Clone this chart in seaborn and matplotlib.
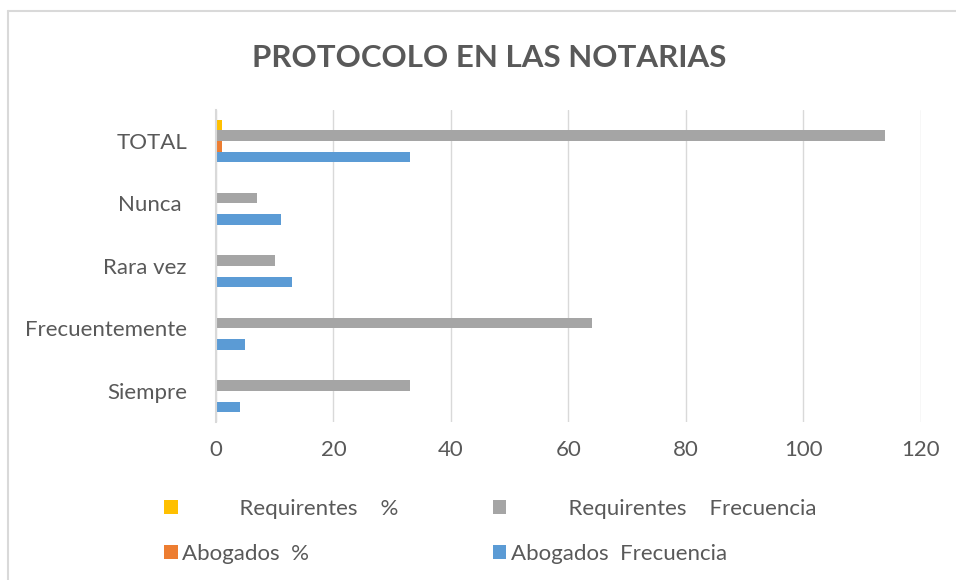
import pandas as pd
import matplotlib.pyplot as plt
import seaborn as sns
from matplotlib.lines import Line2D

# Data
categorias = ["TOTAL", "Nunca ", "Rara vez", "Frecuentemente", "Siempre"]
abogados_frec = [33, 11, 13, 5, 4]
abogados_pct = [1, 0, 0, 0, 0]
requirentes_frec = [114, 7, 10, 64, 33]
requirentes_pct = [1, 0, 0, 0, 0]

series = ["Requirentes %", "Requirentes Frecuencia", "Abogados %", "Abogados Frecuencia"]
leyenda = ["          Requirentes    %", "          Requirentes    Frecuencia",
           "Abogados  %", "Abogados  Frecuencia"]
colores = ["#FFC000", "#A5A5A5", "#ED7D31", "#5B9BD5"]

rows = []
for nombre, vals in zip(series, [requirentes_pct, requirentes_frec, abogados_pct, abogados_frec]):
    for c, v in zip(categorias, vals):
        rows.append({"categoria": c, "serie": nombre, "valor": v})
df = pd.DataFrame(rows)

sns.set_style("white")
plt.rcParams['font.family'] = ['Lato', 'DejaVu Sans']

fig = plt.figure(figsize=(9.56, 5.8), dpi=100)
ax = fig.add_axes([0.226, 0.272, 0.737, 0.539])

sns.barplot(data=df, y="categoria", x="valor", hue="serie", order=categorias,
            hue_order=series, palette=colores, orient="h", width=0.68,
            linewidth=0, saturation=1, ax=ax, errorbar=None)

ax.set_xlim(0, 120)
ax.set_xticks(range(0, 121, 20))
ax.xaxis.grid(True, color="#D9D9D9", linewidth=1)
ax.set_axisbelow(True)
for s in ["top", "right", "bottom"]:
    ax.spines[s].set_visible(False)
ax.spines["left"].set_color("#D9D9D9")
ax.spines["left"].set_linewidth(1.5)
ax.set_xlabel("")
ax.set_ylabel("")
ax.tick_params(axis="y", length=0, pad=21, labelsize=16, labelcolor="#595959")
ax.tick_params(axis="x", length=0, pad=13, labelsize=16, labelcolor="#595959")

handles, labels = ax.get_legend_handles_labels()
ax.get_legend().remove()
orden = [0, 2, 1, 3]
fig.legend([handles[i] for i in orden], [leyenda[i] for i in orden],
           ncol=2, loc="upper left", bbox_to_anchor=(0.151, 0.174),
           frameon=False, fontsize=16, labelcolor="#595959",
           handlelength=0.6, handleheight=0.6, handletextpad=0.2,
           labelspacing=1.1, columnspacing=4.25)

fig.text(0.512, 0.9, "PROTOCOLO EN LAS NOTARIAS", ha="center", va="center",
         fontsize=22.5, fontweight="bold", color="#595959")

# chart border (top and left edges)
fig.add_artist(Line2D([8/956, 1], [1 - 11/580, 1 - 11/580], color="#D9D9D9", lw=1.5))
fig.add_artist(Line2D([8/956, 8/956], [0, 1 - 11/580], color="#D9D9D9", lw=1.5))

plt.savefig("out.png", dpi=100)
plt.close()
